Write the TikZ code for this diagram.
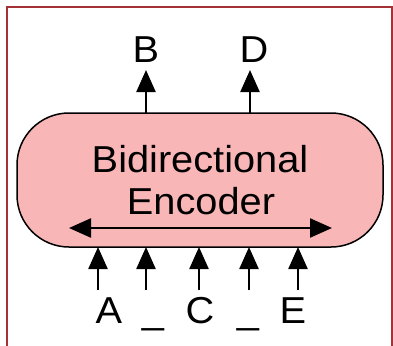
\documentclass[tikz,border=0pt]{standalone}
\usepackage{fontspec}
\setmainfont[FakeStretch=1.06]{Liberation Sans}
\usetikzlibrary{arrows.meta}
\definecolor{encpink}{RGB}{249,182,182}
\definecolor{frame}{RGB}{165,50,55}
\begin{document}
\begin{tikzpicture}[x=1pt,y=-1pt,
  lbl/.style={inner sep=0pt,anchor=base,font=\fontsize{37.5}{44}\selectfont},
  arr/.style={line width=2.4pt,-{Triangle[length=22pt,width=19pt]}},
  darr/.style={line width=2.4pt,{Triangle[length=22pt,width=19pt]}-{Triangle[length=22pt,width=19pt]}}]
\useasboundingbox (0,0) rectangle (393,345);
\draw[frame,line width=1.6pt] (7,7) rectangle (392,360);
\draw[line width=1.5pt,fill=encpink,rounded corners=52pt] (17,113) rectangle (383,247);
\node[lbl] (t1) at (200,172) {Bidirectional};
\node[lbl] (t2) at (201,214) {Encoder};
\coordinate (hl) at (69,228);
\coordinate (hr) at (332,228);
\draw[darr] (hl) -- (hr);
% outputs
\node[lbl] (B) at (146,63) {B};
\node[lbl] (D) at (254,63) {D};
\coordinate (b0) at (146,113);
\coordinate (b1) at (146,70);
\coordinate (d0) at (250,113);
\coordinate (d1) at (250,70);
\draw[arr] (b0) -- (b1);
\draw[arr] (d0) -- (d1);
% inputs
\node[lbl] (A) at (109,323) {A};
\node[lbl] (U1) at (153,323) {\_};
\node[lbl] (C) at (200,323) {C};
\node[lbl] (U2) at (248,323) {\_};
\node[lbl] (E) at (293,323) {E};
\foreach \n/\x in {a/98,u/146,c/199,v/249,e/298}{
  \coordinate (\n0) at (\x,290);
  \coordinate (\n1) at (\x,247);
  \draw[arr] (\n0) -- (\n1);
}
\end{tikzpicture}
\end{document}
